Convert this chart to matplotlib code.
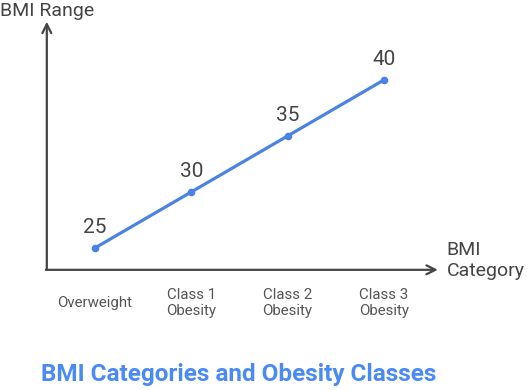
import matplotlib.pyplot as plt

categories = ["Overweight", "Class 1\nObesity", "Class 2\nObesity", "Class 3\nObesity"]
bmi_values = [25, 30, 35, 40]

plt.rcParams['font.family'] = ['Roboto', 'DejaVu Sans']

fig = plt.figure(figsize=(5.27, 3.9), dpi=100)
ax = fig.add_axes([0, 0, 1, 1])
ax.axis('off')
# figure-wide axes, limits chosen so the points sit where the reference has them
ax.set_xlim(-0.986, 4.486)
ax.set_ylim(12.32, 47.14)

x = list(range(len(categories)))
ax.plot(x, bmi_values, color='#4a84e0', lw=2.3, marker='o', markersize=4.5, zorder=3)

for xi, v in zip(x, bmi_values):
    ax.text(xi, v + 1.8, str(v), ha='center', va='center', fontsize=15, color='#444444')

for xi, c in zip(x, categories):
    ax.text(xi, 20.1, c, ha='center', va='center', fontsize=10.8, color='#555555', linespacing=1.15)

axis_color = '#444444'
ax.annotate('', xy=(-0.5, 45.2), xytext=(-0.5, 23.05),
            arrowprops=dict(arrowstyle='->', color=axis_color, lw=1.6, mutation_scale=16,
                            shrinkA=0, shrinkB=0))
ax.annotate('', xy=(3.56, 23.05), xytext=(-0.51, 23.05),
            arrowprops=dict(arrowstyle='->', color=axis_color, lw=1.6, mutation_scale=16,
                            shrinkA=0, shrinkB=0))

ax.text(-0.99, 46.15, "BMI Range", ha='left', va='center', fontsize=14, color='#444444')
ax.text(3.65, 23.85, "BMI\nCategory", ha='left', va='center', fontsize=14, color='#444444',
        linespacing=1.2)

fig.text(239 / 527, 1 - 375 / 390, "BMI Categories and Obesity Classes", ha='center', va='center',
         fontsize=17.5, fontweight='bold', color='#4a8af4')

fig.savefig('out.png', dpi=100)
